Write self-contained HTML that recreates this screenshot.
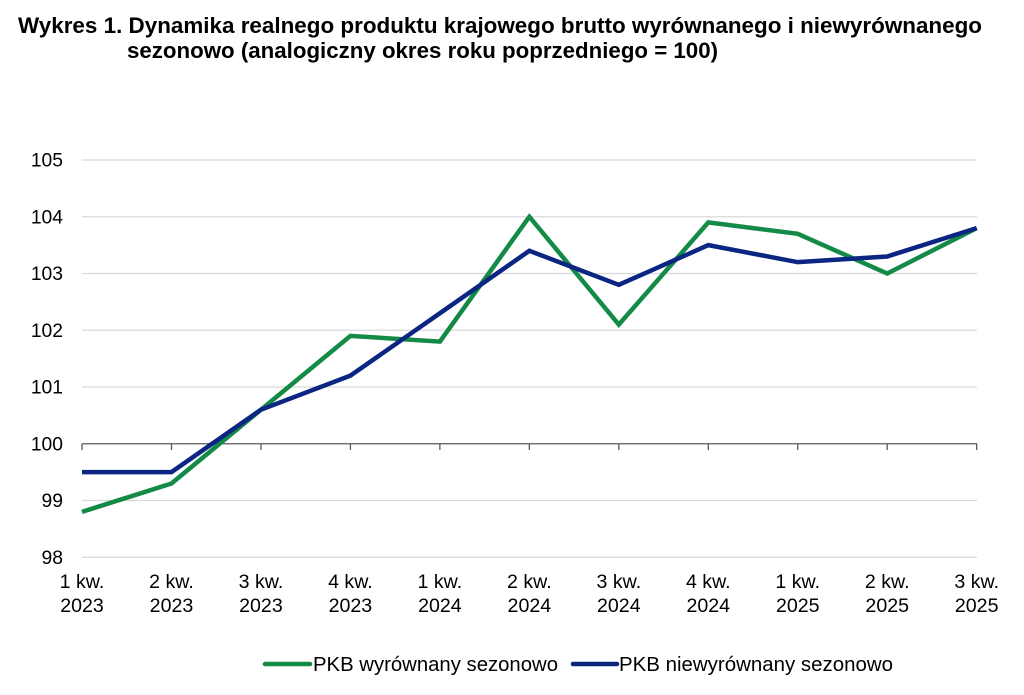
<!DOCTYPE html>
<html>
<head>
<meta charset="utf-8">
<style>
  html, body { margin:0; padding:0; background:#ffffff; }
  body { width:1024px; height:695px; overflow:hidden; }
  svg { display:block; }
  text { font-family: "Liberation Sans", Arial, sans-serif; fill:#000; }
</style>
</head>
<body>
<svg width="1024" height="695" viewBox="0 0 1024 695" xmlns="http://www.w3.org/2000/svg">
  <rect x="0" y="0" width="1024" height="695" fill="#ffffff"/>

  <!-- Title -->
  <text x="18" y="33" font-size="22" font-weight="bold" textLength="964" lengthAdjust="spacingAndGlyphs">Wykres 1. Dynamika realnego produktu krajowego brutto wyrównanego i niewyrównanego</text>
  <text x="127" y="58" font-size="22" font-weight="bold" textLength="591" lengthAdjust="spacingAndGlyphs">sezonowo (analogiczny okres roku poprzedniego = 100)</text>

  <!-- Gridlines -->
  <g stroke="#d9d9d9" stroke-width="1.2">
    <line x1="82" y1="160" x2="977" y2="160"/>
    <line x1="82" y1="216.75" x2="977" y2="216.75"/>
    <line x1="82" y1="273.5" x2="977" y2="273.5"/>
    <line x1="82" y1="330.25" x2="977" y2="330.25"/>
    <line x1="82" y1="387" x2="977" y2="387"/>
    <line x1="82" y1="500.5" x2="977" y2="500.5"/>
    <line x1="82" y1="557.25" x2="977" y2="557.25"/>
  </g>

  <!-- Axis at 100 with ticks -->
  <g stroke="#595959" stroke-width="1.3">
    <line x1="82" y1="443.75" x2="977" y2="443.75"/>
    <line x1="82" y1="443.75" x2="82" y2="450"/>
    <line x1="171.47" y1="443.75" x2="171.47" y2="450"/>
    <line x1="260.94" y1="443.75" x2="260.94" y2="450"/>
    <line x1="350.41" y1="443.75" x2="350.41" y2="450"/>
    <line x1="439.88" y1="443.75" x2="439.88" y2="450"/>
    <line x1="529.35" y1="443.75" x2="529.35" y2="450"/>
    <line x1="618.82" y1="443.75" x2="618.82" y2="450"/>
    <line x1="708.29" y1="443.75" x2="708.29" y2="450"/>
    <line x1="797.76" y1="443.75" x2="797.76" y2="450"/>
    <line x1="887.23" y1="443.75" x2="887.23" y2="450"/>
    <line x1="976.7" y1="443.75" x2="976.7" y2="450"/>
  </g>

  <!-- Y labels -->
  <g font-size="19.3" text-anchor="end">
    <text x="63" y="166.7">105</text>
    <text x="63" y="223.4">104</text>
    <text x="63" y="280.2">103</text>
    <text x="63" y="336.9">102</text>
    <text x="63" y="393.7">101</text>
    <text x="63" y="450.4">100</text>
    <text x="63" y="507.2">99</text>
    <text x="63" y="563.9">98</text>
  </g>

  <!-- X labels -->
  <g font-size="19.6" text-anchor="middle">
    <text x="82" y="588">1 kw.</text><text x="82" y="612">2023</text>
    <text x="171.47" y="588">2 kw.</text><text x="171.47" y="612">2023</text>
    <text x="260.94" y="588">3 kw.</text><text x="260.94" y="612">2023</text>
    <text x="350.41" y="588">4 kw.</text><text x="350.41" y="612">2023</text>
    <text x="439.88" y="588">1 kw.</text><text x="439.88" y="612">2024</text>
    <text x="529.35" y="588">2 kw.</text><text x="529.35" y="612">2024</text>
    <text x="618.82" y="588">3 kw.</text><text x="618.82" y="612">2024</text>
    <text x="708.29" y="588">4 kw.</text><text x="708.29" y="612">2024</text>
    <text x="797.76" y="588">1 kw.</text><text x="797.76" y="612">2025</text>
    <text x="887.23" y="588">2 kw.</text><text x="887.23" y="612">2025</text>
    <text x="976.7" y="588">3 kw.</text><text x="976.7" y="612">2025</text>
  </g>

  <!-- Series: PKB wyrównany sezonowo (green) -->
  <polyline fill="none" stroke="#138a46" stroke-width="4.5" stroke-linejoin="miter" stroke-miterlimit="10"
    points="82,511.85 171.47,483.48 260.94,409.7 350.41,335.93 439.88,341.6 529.35,216.75 618.82,324.58 708.29,222.43 797.76,233.78 887.23,273.5 976.7,228.1"/>

  <!-- Series: PKB niewyrównany sezonowo (navy) -->
  <polyline fill="none" stroke="#0b2582" stroke-width="4.5" stroke-linejoin="miter" stroke-miterlimit="10"
    points="82,472.13 171.47,472.13 260.94,409.7 350.41,375.65 439.88,313.23 529.35,250.8 618.82,284.85 708.29,245.13 797.76,262.15 887.23,256.48 976.7,228.1"/>

  <!-- Legend -->
  <line x1="265" y1="664" x2="310" y2="664" stroke="#138a46" stroke-width="4.5" stroke-linecap="round"/>
  <text x="313" y="671" font-size="20" textLength="245" lengthAdjust="spacingAndGlyphs">PKB wyrównany sezonowo</text>
  <line x1="573" y1="664" x2="617" y2="664" stroke="#0b2582" stroke-width="4.5" stroke-linecap="round"/>
  <text x="619" y="671" font-size="20" textLength="274" lengthAdjust="spacingAndGlyphs">PKB niewyrównany sezonowo</text>
</svg>
</body>
</html>
